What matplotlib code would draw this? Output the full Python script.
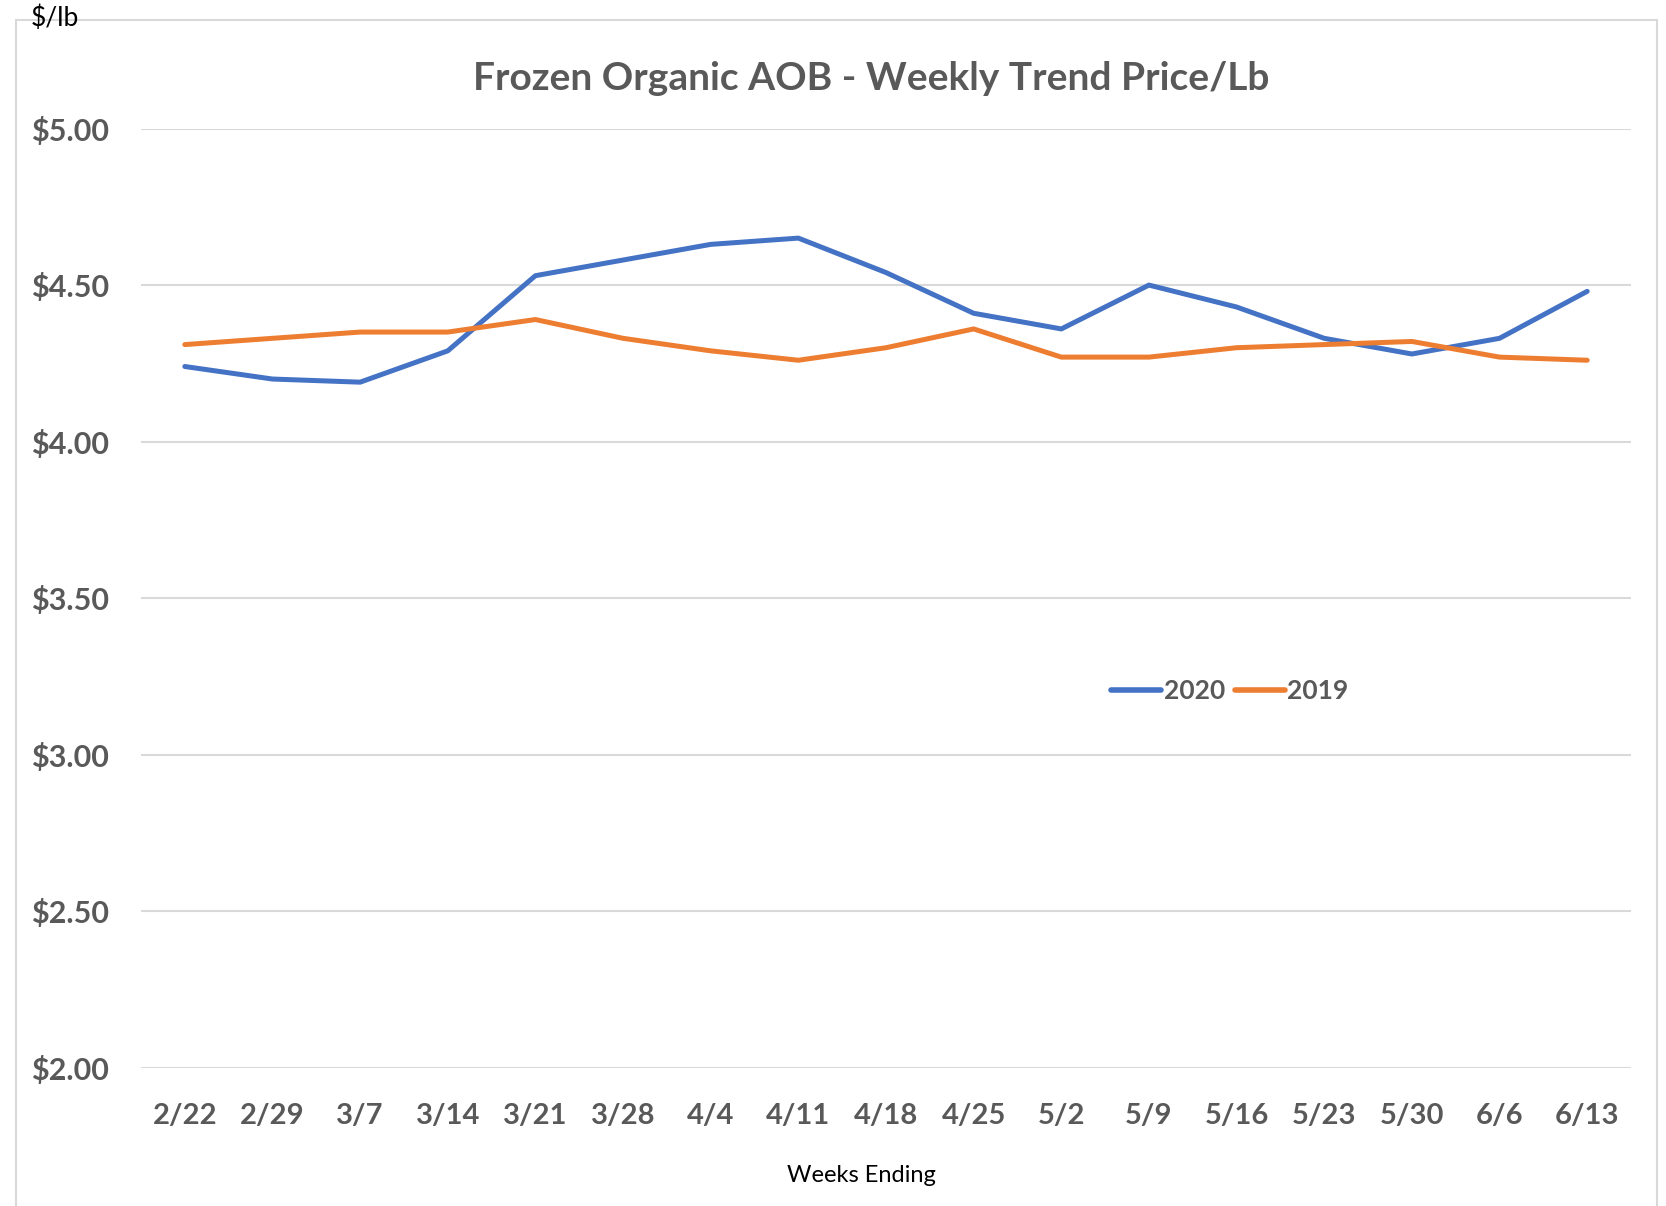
import matplotlib
matplotlib.use("Agg")
import matplotlib.pyplot as plt
from matplotlib.patches import Rectangle

weeks = ["2/22", "2/29", "3/7", "3/14", "3/21", "3/28", "4/4", "4/11", "4/18",
         "4/25", "5/2", "5/9", "5/16", "5/23", "5/30", "6/6", "6/13"]
price_2020 = [4.24, 4.20, 4.19, 4.29, 4.53, 4.58, 4.63, 4.65, 4.54,
              4.41, 4.36, 4.50, 4.43, 4.33, 4.28, 4.33, 4.48]
price_2019 = [4.31, 4.33, 4.35, 4.35, 4.39, 4.33, 4.29, 4.26, 4.30,
              4.36, 4.27, 4.27, 4.30, 4.31, 4.32, 4.27, 4.26]
y_ticks = [2.0, 2.5, 3.0, 3.5, 4.0, 4.5, 5.0]

W, H = 1666, 1206
fig = plt.figure(figsize=(W / 100, H / 100), dpi=100)
plt.rcParams['font.family'] = ['Lato', 'DejaVu Sans']

# outer chart border
fig.patches.append(Rectangle((16 / W, -0.05), (1657 - 16) / W, 1.05 - 20 / H,
                             transform=fig.transFigure, fill=False,
                             edgecolor="#D9D9D9", linewidth=1.5))

left, right, top, bottom = 141, 1631, 128.5, 1068
ax = fig.add_axes([left / W, 1 - bottom / H, (right - left) / W, (bottom - top) / H])

x = list(range(len(weeks)))
gray = "#595959"
ax.plot(x, price_2020, color="#4472C4", linewidth=3.6, solid_capstyle="round",
        solid_joinstyle="round", label="2020", zorder=3)
ax.plot(x, price_2019, color="#ED7D31", linewidth=3.6, solid_capstyle="round",
        solid_joinstyle="round", label="2019", zorder=3)

ax.set_xlim(-0.5, len(weeks) - 0.5)
ax.set_ylim(2.0, 5.0)
ax.set_yticks(y_ticks)
ax.set_yticklabels([f"${v:.2f}" for v in y_ticks], fontsize=22, fontweight="bold", color=gray)
ax.set_xticks(x)
ax.set_xticklabels(weeks, fontsize=21, fontweight="bold", color=gray)
ax.tick_params(axis="both", length=0)
ax.tick_params(axis="y", pad=23)
ax.tick_params(axis="x", pad=25)
ax.grid(axis="y", color="#D9D9D9", linewidth=1.5)
ax.set_axisbelow(True)
for s in ax.spines.values():
    s.set_visible(False)

fig.text(871 / W, 1 - 79 / H, "Frozen Organic AOB - Weekly Trend Price/Lb",
         ha="center", va="center", fontsize=28, fontweight="bold", color=gray)
fig.text(31 / W, 1 - 18 / H, "$/lb", ha="left", va="center", fontsize=19, color="black")
fig.text(861 / W, 1 - 1175 / H, "Weeks Ending", ha="center", va="center",
         fontsize=17, color="black")

leg = ax.legend(loc="center", bbox_to_anchor=((1230 - left) / (right - left), (bottom - 691) / (bottom - top)),
                ncol=2, frameon=False, prop={"size": 19, "weight": "bold"},
                handlelength=1.9, handletextpad=0.1, columnspacing=0.35)
for t in leg.get_texts():
    t.set_color(gray)
for h in leg.get_lines():
    h.set_linewidth(4.0)
    h.set_solid_capstyle("round")

fig.savefig("out.png", dpi=100)
